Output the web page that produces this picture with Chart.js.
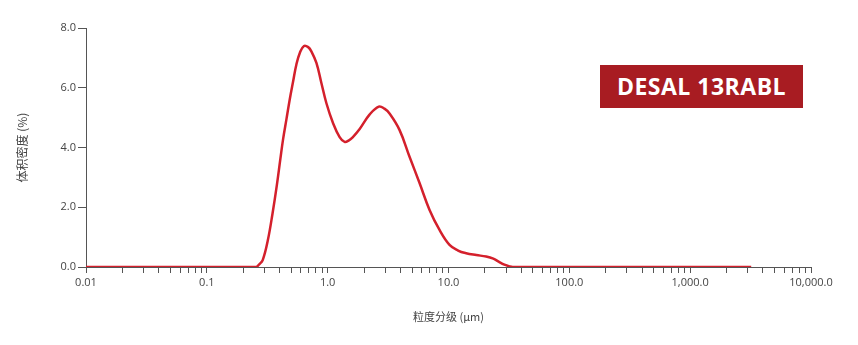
<!DOCTYPE html>
<html><head><meta charset="utf-8">
<script src="https://cdn.jsdelivr.net/npm/chart.js@4/dist/chart.umd.min.js"></script>
<style>
html,body{margin:0;padding:0;background:#fff;}
#wrap{position:relative;width:858px;height:345px;}
#badge{position:absolute;left:600px;top:65px;width:203px;height:43px;background:#a81c22;color:#fff;
font-family:"Open Sans",sans-serif;font-weight:bold;font-size:23px;line-height:43px;text-align:center;letter-spacing:0.5px;}
</style></head><body>
<div id="wrap"><canvas id="c" width="858" height="345"></canvas><div id="badge">DESAL 13RABL</div></div>
<script>
const sizes  = [0.01,0.255,0.27,0.29,0.32,0.35,0.38,0.406,0.428,0.456,0.485,0.517,0.551,0.59,0.637,0.69,0.733,0.807,0.887,0.975,1.107,1.256,1.381,1.5,1.61,1.84,2.22,2.65,2.95,3.25,3.93,4.76,5.76,6.97,8.43,10.2,12,14,17,20.5,23.5,26,29,32,34,3200];
const density= [0,0,0.08,0.23,0.9,1.8,2.75,3.62,4.29,4.95,5.6,6.2,6.78,7.18,7.4,7.36,7.22,6.83,6.16,5.49,4.82,4.35,4.19,4.24,4.34,4.62,5.1,5.37,5.3,5.14,4.59,3.69,2.81,1.91,1.24,0.74,0.55,0.46,0.4,0.35,0.28,0.18,0.08,0.02,0,0];
const xMajor = [0.01,0.1,1,10,100,1000,10000];
const xLabels= ["0.01","0.1","1.0","10.0","100.0","1,000.0","10,000.0"];
const yTicks = [0,2,4,6,8];

const pts = sizes.map((s,i)=>({x:s,y:density[i]}));
const font = {family:"'Open Sans', sans-serif", size:11};
const txt = '#444';

new Chart(document.getElementById('c'),{
  type:'line',
  data:{datasets:[{data:pts,borderColor:'#d4202c',borderWidth:2.5,pointRadius:0,fill:false,tension:0.4}]},
  options:{
    responsive:false,animation:false,
    layout:{padding:{top:28,right:47,left:0,bottom:0}},
    plugins:{legend:{display:false},tooltip:{enabled:false}},
    scales:{
      x:{type:'logarithmic',min:0.01,max:10000,
        afterBuildTicks:(sc)=>{const t=[];for(let e=-2;e<4;e++){for(let m=1;m<10;m++){t.push({value:m*Math.pow(10,e)});}}t.push({value:10000});sc.ticks=t;},
        afterFit:(sc)=>{sc.height=78;},
        ticks:{autoSkip:false,maxRotation:0,padding:3,color:txt,font:font,
          callback:(v)=>{const i=xMajor.findIndex(m=>Math.abs(m-v)/m<1e-6);return i>=0?xLabels[i]:'';}},
        grid:{drawOnChartArea:false,drawTicks:true,tickLength:6,tickColor:'#555',tickWidth:1},
        border:{color:'#555',width:1},
        title:{display:true,text:'粒度分级 (μm)',color:txt,font:{family:"'Noto Sans CJK SC', sans-serif",size:11},padding:{top:0,bottom:22}}
      },
      y:{min:0,max:8,
        afterBuildTicks:(sc)=>{sc.ticks=yTicks.map(v=>({value:v}));},
        afterFit:(sc)=>{sc.width=86;},
        ticks:{color:txt,font:font,padding:2,callback:(v)=>v.toFixed(1)},
        grid:{drawOnChartArea:false,drawTicks:true,tickLength:8,tickColor:'#555'},
        border:{color:'#555',width:1},
        title:{display:true,text:'体积密度 (%)',color:txt,font:{family:"'Noto Sans CJK SC', sans-serif",size:12},padding:{top:15,bottom:0}}
      }
    }
  }
});
</script>
</body></html>
